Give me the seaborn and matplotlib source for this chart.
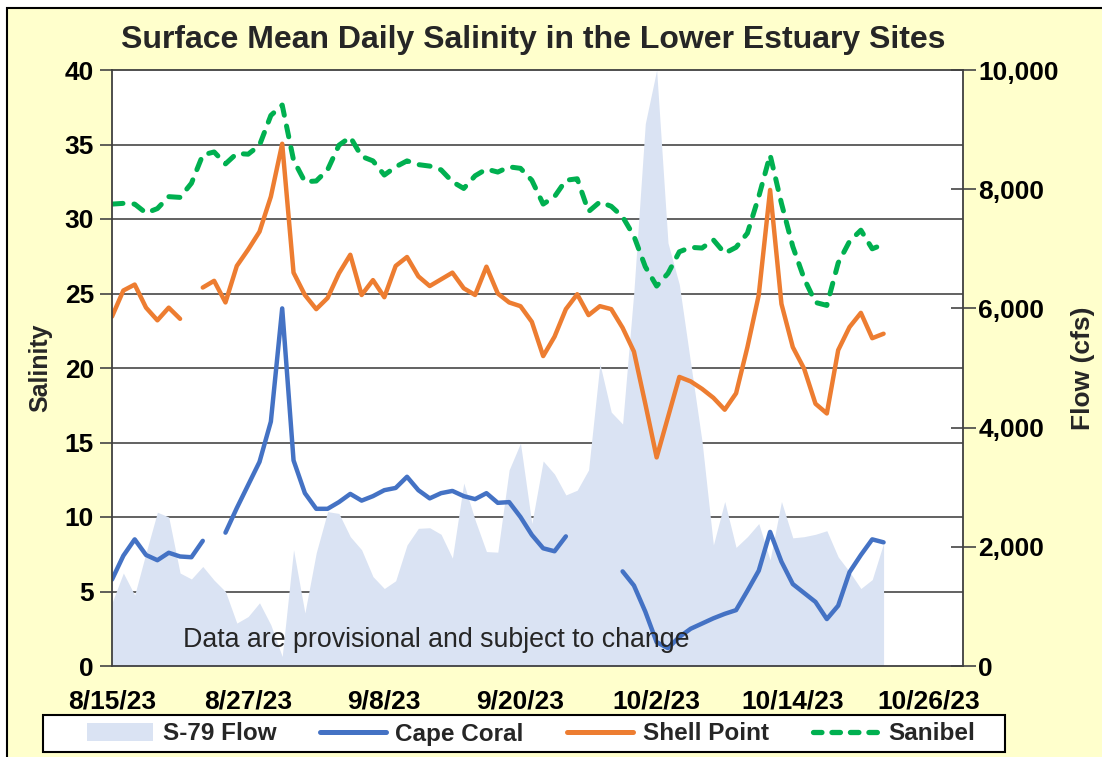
import numpy as np
import pandas as pd
import matplotlib
matplotlib.use('Agg')
import matplotlib.pyplot as plt
import matplotlib.ticker as mticker
from matplotlib.patches import Patch, Rectangle
from matplotlib.lines import Line2D
import seaborn as sns

sns.set_style('white')
plt.rcParams['font.family'] = ['Liberation Sans', 'DejaVu Sans']

# 数据：2023-08-15 起的逐日值（None 为缺测）
start_date = '2023-08-15'
flow = [1060, 1560, 1190, 1900, 2580, 2500, 1560, 1460, 1670, 1440,
        1250, 720, 830, 1060, 690, 160, 1950, 890, 1900, 2590,
        2560, 2170, 1950, 1500, 1300, 1430, 2030, 2310, 2320, 2210,
        1810, 3070, 2450, 1920, 1910, 3290, 3740, 2390, 3440, 3220,
        2870, 2950, 3290, 5070, 4260, 4060, 6300, 9100, 10000, 7100,
        6400, 5080, 3770, 2030, 2760, 1990, 2170, 2390, 1780, 2760,
        2150, 2170, 2210, 2270, 1830, 1580, 1300, 1450, 2060]
cape_coral = [5.8, 7.4, 8.5, 7.45, 7.1, 7.6, 7.35, 7.3, 8.4, None,
              8.95, 10.6, 12.15, 13.7, 16.4, 24.0, 13.8, 11.6, 10.55, 10.55,
              11.0, 11.55, 11.1, 11.4, 11.8, 11.95, 12.7, 11.8, 11.25, 11.6,
              11.75, 11.4, 11.2, 11.6, 10.95, 11.0, 10.0, 8.8, 7.9, 7.7,
              8.7, None, None, None, None, 6.35, 5.4, 3.65, 1.6, 1.2,
              1.95, 2.5, 2.85, 3.2, 3.5, 3.75, 5.05, 6.4, 9.0, 7.0,
              5.5, 4.9, 4.3, 3.15, 4.05, 6.3, 7.45, 8.5, 8.3]
shell_point = [23.45, 25.2, 25.6, 24.05, 23.2, 24.05, 23.3, None, 25.4, 25.85,
               24.4, 26.85, 27.95, 29.15, 31.5, 35.05, 26.4, 24.9, 23.95, 24.7,
               26.35, 27.6, 24.9, 25.9, 24.75, 26.85, 27.45, 26.15, 25.5, 25.95,
               26.4, 25.35, 24.9, 26.8, 25.0, 24.4, 24.15, 23.1, 20.8, 22.1,
               23.95, 24.95, 23.55, 24.15, 23.95, 22.7, 21.1, 17.6, 14.0, 16.7,
               19.4, 19.1, 18.6, 18.0, 17.2, 18.3, 21.4, 24.9, 31.95, 24.3,
               21.4, 19.95, 17.6, 16.95, 21.2, 22.75, 23.7, 22.0, 22.3]
sanibel = [31.0, 31.05, 31.0, 30.4, 30.7, 31.5, 31.45, 32.4, 34.3, 34.5,
           33.7, 34.4, 34.35, 34.95, 36.95, 37.65, 33.95, 32.5, 32.55, 33.3,
           34.95, 35.5, 34.2, 33.9, 32.95, 33.5, 33.9, 33.65, 33.55, 33.3,
           32.5, 32.05, 32.9, 33.35, 33.15, 33.5, 33.4, 32.6, 31.0, 31.5,
           32.6, 32.7, 30.5, 31.15, 30.85, 30.15, 28.85, 26.8, 25.5, 26.35,
           27.8, 28.1, 28.05, 28.6, 27.7, 28.1, 29.05, 31.5, 34.3, 31.05,
           28.15, 26.0, 24.4, 24.2, 27.05, 28.5, 29.25, 28.0, 28.3]
tick_dates = ['2023-08-15', '2023-08-27', '2023-09-08', '2023-09-20',
              '2023-10-02', '2023-10-14', '2023-10-26']
tick_labels = ['8/15/23', '8/27/23', '9/8/23', '9/20/23', '10/2/23', '10/14/23', '10/26/23']

dates = pd.date_range(start_date, periods=len(flow), freq='D')
df = pd.DataFrame({'date': dates, 'flow': flow, 'Cape Coral': cape_coral,
                   'Shell Point': shell_point, 'Sanibel': sanibel})

c_flow = '#DAE3F3'
c_cape = '#4472C4'
c_shell = '#ED7D31'
c_san = '#00B050'

fig = plt.figure(figsize=(11.02, 7.57), dpi=100, facecolor='white')
fig.patches.append(Rectangle((7/1102, -0.05), 1.1, 1 - 8/757 + 0.05, transform=fig.transFigure,
                             facecolor='#FFFFCC', edgecolor='black', linewidth=1.5, zorder=-10))

ax = fig.add_axes([112/1102, 1 - 666/757, (963 - 112)/1102, (666 - 70)/757])
ax2 = ax.twinx()
ax.set_zorder(ax2.get_zorder() + 1)
ax.patch.set_visible(False)
ax2.patch.set_visible(True)
ax2.patch.set_facecolor('white')

# 网格线放在流量面积图下面
for k in range(1, 8):
    ax2.axhline(k * 1250, color='#555555', linewidth=1.3, zorder=0.5)
ax2.fill_between(df['date'], 0, df['flow'], color=c_flow, linewidth=0, zorder=1)

def seg_line(col, color, ls, lw=3.2):
    d = df[['date', col]].copy()
    d['seg'] = d[col].isna().cumsum()
    d = d.dropna()
    sns.lineplot(data=d, x='date', y=col, units='seg', estimator=None, ax=ax,
                 color=color, linewidth=lw, linestyle=ls, dash_capstyle='round',
                 solid_capstyle='round', legend=False)

seg_line('Cape Coral', c_cape, '-')
seg_line('Shell Point', c_shell, '-')
seg_line('Sanibel', c_san, (0, (2.2, 2.2)), lw=3.6)

x0 = pd.Timestamp(start_date)
ax.set_xlim(x0, x0 + pd.Timedelta(days=75))
ax.set_ylim(0, 40)
ax2.set_ylim(0, 10000)
ax.set_yticks(range(0, 41, 5))
ax2.set_yticks(range(0, 10001, 2000))
ax2.yaxis.set_major_formatter(mticker.FuncFormatter(lambda v, p: f'{v:,.0f}'))
ax.set_xticks(pd.to_datetime(tick_dates))
ax.set_xticklabels(tick_labels)
ax.set_xticks(pd.date_range(start_date, periods=76, freq='D'), minor=True)

ax.tick_params(axis='x', which='major', direction='out', length=9, width=1.2, colors='#222222',
               labelcolor='black', labelsize=19, pad=8)
ax.tick_params(axis='x', which='minor', direction='out', length=5, width=1, colors='#444444')
ax.tick_params(axis='y', direction='out', length=9, width=1.2, colors='#444444',
               labelcolor='black', labelsize=19, pad=4)
ax2.tick_params(axis='y', direction='inout', length=18, width=1.2, colors='#444444',
                labelcolor='black', labelsize=19, pad=2)
for lab in ax.get_xticklabels() + ax.get_yticklabels() + ax2.get_yticklabels():
    lab.set_fontweight('bold')

for s in ax.spines.values():
    s.set_color('#404040')
    s.set_linewidth(1.3)
for s in ax2.spines.values():
    s.set_visible(False)

ax.set_xlabel('')
ax.set_ylabel('Salinity', fontsize=18, fontweight='bold', labelpad=9)
ax2.set_ylabel('Flow (cfs)', fontsize=19, fontweight='bold', labelpad=9)

fig.text(533/1102, 1 - 40/757, 'Surface Mean Daily Salinity in the Lower Estuary Sites',
         ha='center', va='center', fontsize=23, fontweight='bold')
ax.text(0.0834, 0.044, 'Data are provisional and subject to change', transform=ax.transAxes,
        ha='left', va='center', fontsize=19.3, zorder=5)

# 图例
fig.patches.append(Rectangle((43/1102, 1 - 752/757), (1005 - 43)/1102, 37/757,
                             transform=fig.transFigure, facecolor='white',
                             edgecolor='black', linewidth=1.5, zorder=1))
handles = [Patch(facecolor=c_flow, edgecolor='none'),
           Line2D([], [], color=c_cape, linewidth=3.6),
           Line2D([], [], color=c_shell, linewidth=3.6),
           Line2D([], [], color=c_san, linewidth=3.8, linestyle=(0, (1.6, 1.9)), dash_capstyle='round')]
leg = fig.legend(handles, ['S-79 Flow', 'Cape Coral', 'Shell Point', 'Sanibel'],
                 loc='center', bbox_to_anchor=(531/1102, 1 - 734/757), ncol=4,
                 frameon=False, handlelength=2.7, columnspacing=1.8, handletextpad=0.4,
                 prop={'weight': 'bold', 'size': 17.5})
leg.set_zorder(2)

fig.savefig('out.png', dpi=100, facecolor=fig.get_facecolor())
